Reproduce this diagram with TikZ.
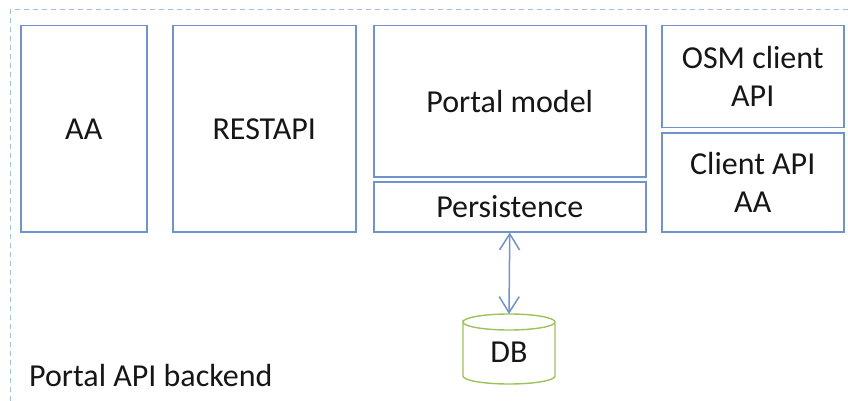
\documentclass[tikz,border=0pt]{standalone}
\usepackage{fontspec}
\setmainfont{Carlito}
\usetikzlibrary{arrows.meta}
\definecolor{boxblue}{HTML}{6F93CA}
\definecolor{frameblue}{HTML}{9DC0E4}
\definecolor{dbgreen}{HTML}{9CC35A}
\definecolor{txt}{HTML}{161616}
\tikzset{
  comp/.style={draw=boxblue, line width=1.5pt, anchor=north west, inner sep=0pt,
    align=center, text=txt, font=\fontsize{32}{38}\selectfont},
  label/.style={text=txt, font=\fontsize{32}{38}\selectfont, inner sep=0pt},
  link/.style={draw=boxblue, line width=1.5pt, {Straight Barb[length=16pt,width=20pt]}-{Straight Barb[length=16pt,width=20pt]}},
}
\begin{document}
\begin{tikzpicture}[x=1pt, y=-1pt]
\useasboundingbox (0,0) rectangle (848,401);
% outer dashed frame of the backend
\draw[frameblue, line width=1pt, dash pattern=on 5pt off 4pt] (10,401) -- (10,10) -- (848,10);
% components
\node[comp, minimum width=126pt, minimum height=206pt] (aa) at (20,25) {AA};
\node[comp, minimum width=183pt, minimum height=206pt] (rest) at (172,25) {RESTAPI};
\node[comp, minimum width=272pt, minimum height=151pt] (model) at (373,25) {Portal model};
\node[comp, minimum width=272pt, minimum height=50pt] (pers) at (373,181) {Persistence};
\node[comp, minimum width=182pt, minimum height=102pt] (osm) at (661,25) {OSM client\\API};
\node[comp, minimum width=182pt, minimum height=99pt] (caa) at (661,132) {Client API\\AA};
% database cylinder
\coordinate (dbtop) at (509,314);
\draw[dbgreen, line width=1.4pt] (463,322) arc[start angle=180, end angle=0, x radius=46pt, y radius=8pt]
  arc[start angle=0, end angle=-180, x radius=46pt, y radius=8pt]
  -- (463,376) arc[start angle=180, end angle=360, x radius=46pt, y radius=8pt] -- (555,322);
\node[label] (db) at (509,352) {DB};
% connector
\draw[link] (pers.south) -- (dbtop);
\node[label, anchor=west] (title) at (29,376) {Portal API backend};
\end{tikzpicture}
\end{document}
